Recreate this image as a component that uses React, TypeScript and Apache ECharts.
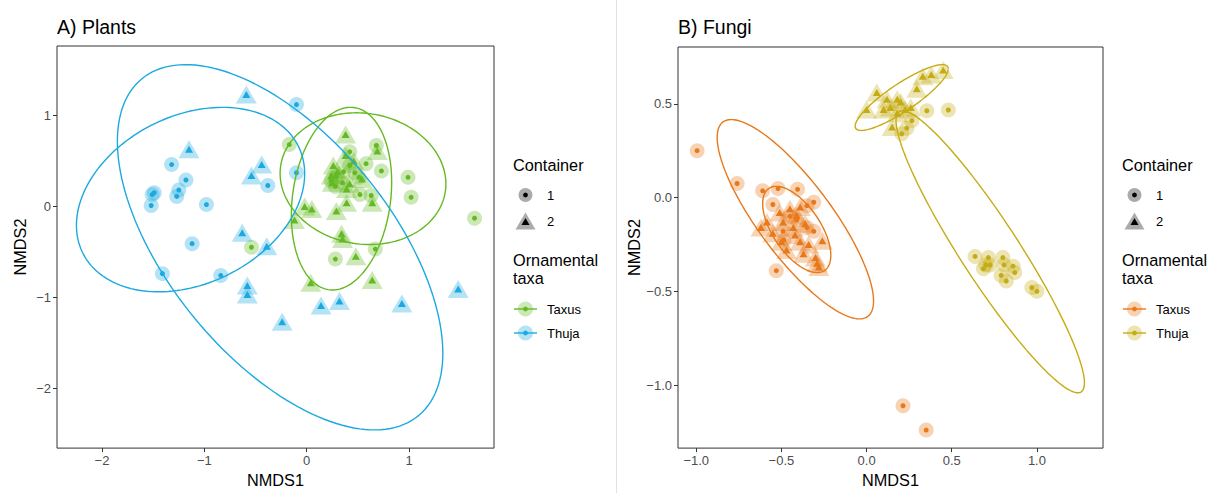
import React, { useEffect, useRef } from "react";
import * as echarts from "echarts";

// ---------- Panel A: Plants (NMDS1, NMDS2) ----------
const plantsTaxusC1: number[][] = [
  [-0.17, 0.68], [0.68, 0.67], [0.73, 0.39], [0.99, 0.32], [1.02, 0.10], [1.64, -0.13],
  [0.28, -0.58], [0.67, -0.47], [-0.54, -0.45], [0.42, 0.60], [0.58, 0.47], [0.42, 0.45],
  [0.51, 0.32], [0.29, 0.33], [0.28, 0.22], [0.52, 0.13], [0.63, 0.12], [0.36, 0.38],
  [0.47, 0.37], [0.24, 0.28], [0.35, 0.26],
];
const plantsTaxusC2: number[][] = [
  [0.38, 0.79], [0.69, 0.61], [0.26, 0.45], [0.24, 0.34], [0.25, 0.26], [0.39, 0.19],
  [0.54, 0.30], [-0.02, 0.0], [0.05, -0.03], [0.29, -0.05], [0.39, 0.04], [0.64, 0.04],
  [-0.12, -0.15], [0.34, -0.30], [0.35, -0.36], [0.48, -0.55], [0.04, -0.84], [0.64, -0.81],
  [0.38, 0.56], [0.42, 0.25], [0.30, 0.38], [0.46, 0.50],
];
const plantsThujaC1: number[][] = [
  [-1.32, 0.46], [-1.18, 0.29], [-1.25, 0.18], [-1.27, 0.11], [-1.51, 0.13], [-1.49, 0.15],
  [-1.52, 0.01], [-0.98, 0.02], [-1.12, -0.41], [-1.41, -0.74], [-0.84, -0.76], [-0.38, 0.23],
  [-0.10, 1.12], [-0.10, 0.37],
];
const plantsThujaC2: number[][] = [
  [-0.59, 1.23], [-1.15, 0.63], [-0.44, 0.46], [-0.54, 0.34], [-0.63, -0.29], [-0.39, -0.44],
  [-0.58, -0.87], [-0.58, -0.97], [-0.24, -1.27], [0.14, -1.09], [0.32, -1.04], [0.93, -1.07],
  [1.48, -0.91],
];
// ellipses: [centreX, centreY, halfWidthX, halfWidthY, correlation]
const plantsTaxusEllipses: number[][] = [
  [0.55, 0.305, 0.81, 0.725, -0.08],
  [0.34, 0.085, 0.49, 1.005, 0.18],
];
const plantsThujaEllipses: number[][] = [
  [-0.26, -0.45, 1.59, 2.01, -0.58],
  [-1.135, 0.075, 1.115, 1.015, 0.28],
];

// ---------- Panel B: Fungi ----------
const fungiTaxusC1: number[][] = [
  [-0.995, 0.25], [-0.76, 0.075], [-0.61, 0.036], [-0.52, 0.048], [-0.405, 0.044],
  [-0.31, -0.025], [-0.55, -0.037], [-0.35, -0.043], [-0.31, -0.18], [-0.49, -0.18],
  [-0.485, -0.227], [-0.53, -0.39], [-0.41, -0.12], [-0.45, -0.10], [-0.35, -0.16],
  [0.214, -1.11], [0.35, -1.24],
];
const fungiTaxusC2: number[][] = [
  [-0.585, -0.13], [-0.49, -0.13], [-0.45, -0.06], [-0.41, -0.096], [-0.39, -0.05],
  [-0.50, -0.235], [-0.39, -0.235], [-0.37, -0.30], [-0.26, -0.23], [-0.30, -0.32],
  [-0.28, -0.37], [-0.36, -0.14], [-0.43, -0.16], [-0.51, -0.08], [-0.34, -0.25],
  [-0.55, -0.19], [-0.62, -0.16], [-0.29, -0.35], [-0.47, -0.28], [-0.42, -0.20],
];
const fungiThujaC1: number[][] = [
  [0.48, 0.467], [0.354, 0.463], [0.266, 0.41], [0.236, 0.37], [0.207, 0.34],
  [0.637, -0.314], [0.715, -0.32], [0.686, -0.38], [0.725, -0.36], [0.80, -0.32],
  [0.807, -0.36], [0.86, -0.366], [0.87, -0.40], [0.79, -0.415], [0.82, -0.445],
  [0.97, -0.48], [1.0, -0.50], [0.70, -0.36],
];
const fungiThujaC2: number[][] = [
  [0.45, 0.68], [0.38, 0.656], [0.33, 0.647], [0.295, 0.58], [0.06, 0.56], [0.0, 0.47],
  [0.12, 0.525], [0.18, 0.525], [0.20, 0.51], [0.14, 0.48], [0.226, 0.47], [0.10, 0.47],
  [0.15, 0.376], [0.26, 0.48], [0.18, 0.45],
];
const fungiTaxusEllipses: number[][] = [
  [-0.418, -0.1155, 0.459, 0.5315, -0.82],
  [-0.41, -0.17, 0.2, 0.23, -0.6],
];
const fungiThujaEllipses: number[][] = [
  [0.2065, 0.5335, 0.2735, 0.1755, 0.87],
  [0.726, -0.289, 0.553, 0.752, -0.93],
];

// ---------- ticks ----------
const plantsXTicks = [-2, -1, 0, 1];
const plantsYTicks = [-2, -1, 0, 1];
const fungiXTicks = [-1, -0.5, 0, 0.5, 1];
const fungiYTicks = [-1, -0.5, 0, 0.5];

const colors = {
  plantsTaxus: "#64BA22",
  plantsThuja: "#1CA9E0",
  fungiTaxus: "#E8781A",
  fungiThuja: "#C6AC14",
};

const FONT = "'Liberation Sans', Arial, Helvetica, sans-serif";

function ellipsePoints(e: number[]): number[][] {
  const [cx, cy, a, b, r] = e;
  const s = Math.sqrt(1 - r * r);
  const pts: number[][] = [];
  const n = 160;
  for (let i = 0; i <= n; i++) {
    const t = (2 * Math.PI * i) / n;
    pts.push([cx + a * Math.cos(t), cy + b * (r * Math.cos(t) + s * Math.sin(t))]);
  }
  return pts;
}

const minus = (s: string) => s.replace("-", "\u2212");

export default function App() {
  const ref = useRef<HTMLDivElement>(null);
  useEffect(() => {
    if (!ref.current) return;
    const chart = echarts.init(ref.current, undefined, { renderer: "svg" });

    const groups = [
      { g: 0, data: plantsTaxusC1, color: colors.plantsTaxus, shape: "circle" },
      { g: 0, data: plantsThujaC1, color: colors.plantsThuja, shape: "circle" },
      { g: 0, data: plantsTaxusC2, color: colors.plantsTaxus, shape: "triangle" },
      { g: 0, data: plantsThujaC2, color: colors.plantsThuja, shape: "triangle" },
      { g: 1, data: fungiTaxusC1, color: colors.fungiTaxus, shape: "circle" },
      { g: 1, data: fungiThujaC1, color: colors.fungiThuja, shape: "circle" },
      { g: 1, data: fungiTaxusC2, color: colors.fungiTaxus, shape: "triangle" },
      { g: 1, data: fungiThujaC2, color: colors.fungiThuja, shape: "triangle" },
    ];

    const series: any[] = [];
    groups.forEach((gr) => {
      series.push({
        type: "scatter",
        xAxisIndex: gr.g,
        yAxisIndex: gr.g,
        data: gr.data,
        symbol: gr.shape,
        symbolSize: gr.shape === "circle" ? 15 : [21, 18],
        itemStyle: { color: gr.color, opacity: 0.33 },
        silent: true,
        z: 1,
      });
    });
    groups.forEach((gr) => {
      series.push({
        type: "scatter",
        xAxisIndex: gr.g,
        yAxisIndex: gr.g,
        data: gr.data,
        symbol: gr.shape,
        symbolSize: gr.shape === "circle" ? 5 : [8, 7],
        itemStyle: { color: gr.color, opacity: 1 },
        silent: true,
        z: 2,
      });
    });
    const ells = [
      { g: 0, list: plantsTaxusEllipses, color: colors.plantsTaxus },
      { g: 0, list: plantsThujaEllipses, color: colors.plantsThuja },
      { g: 1, list: fungiTaxusEllipses, color: colors.fungiTaxus },
      { g: 1, list: fungiThujaEllipses, color: colors.fungiThuja },
    ];
    ells.forEach((el) => {
      el.list.forEach((e) => {
        series.push({
          type: "line",
          xAxisIndex: el.g,
          yAxisIndex: el.g,
          data: ellipsePoints(e),
          showSymbol: false,
          symbol: "none",
          lineStyle: { color: el.color, width: 1.4 },
          silent: true,
          z: 3,
        });
      });
    });

    const xAxisBase = (g: number, min: number, max: number, ticks: number[], fmt: (v: number) => string) => ({
      gridIndex: g,
      type: "value",
      min,
      max,
      splitLine: { show: false },
      axisLine: { show: false, onZero: false },
      axisTick: { show: true, length: 4, lineStyle: { color: "#333333" }, customValues: ticks },
      axisLabel: { customValues: ticks, formatter: fmt, color: "#4D4D4D", fontSize: 13, margin: 6, fontFamily: FONT },
      name: "NMDS1",
      nameLocation: "middle",
      nameGap: 23,
      nameTextStyle: { fontSize: 16.3, color: "#000", fontFamily: FONT },
    });
    const yAxisBase = (g: number, min: number, max: number, ticks: number[], fmt: (v: number) => string) => ({
      gridIndex: g,
      type: "value",
      min,
      max,
      splitLine: { show: false },
      axisLine: { show: false, onZero: false },
      axisTick: { show: true, length: 4, lineStyle: { color: "#333333" }, customValues: ticks },
      axisLabel: { customValues: ticks, formatter: fmt, color: "#4D4D4D", fontSize: 13, margin: 6, fontFamily: FONT },
      name: "NMDS2",
      nameLocation: "middle",
      nameGap: 29,
      nameTextStyle: { fontSize: 16.3, color: "#000", fontFamily: FONT },
    });
    const fmtInt = (v: number) => minus(String(Math.round(v)));
    const fmt1 = (v: number) => minus(v.toFixed(1));

    const legend = (bx: number, c1: string, c2: string) => {
      const kx = bx + 12.5;
      const lx = bx + 34;
      const tri = (cx: number, cy: number, w: number, h: number) => [
        [cx - w / 2, cy + h / 2],
        [cx + w / 2, cy + h / 2],
        [cx, cy - h / 2],
      ];
      const txt = (x: number, y: number, text: string, size: number) => ({
        type: "text",
        x,
        y,
        style: { text, fontSize: size, fill: "#000", fontFamily: FONT, verticalAlign: "middle", align: "left" },
      });
      return [
        txt(bx, 165, "Container", 16.3),
        { type: "circle", shape: { cx: kx, cy: 195, r: 7 }, style: { fill: "#000", opacity: 0.33 } },
        { type: "circle", shape: { cx: kx, cy: 195, r: 2.4 }, style: { fill: "#000" } },
        txt(lx, 195, "1", 13),
        { type: "polygon", shape: { points: tri(kx, 221, 20, 17) }, style: { fill: "#000", opacity: 0.33 } },
        { type: "polygon", shape: { points: tri(kx, 221.5, 8, 7) }, style: { fill: "#000" } },
        txt(lx, 221, "2", 13),
        txt(bx, 260, "Ornamental", 16.3),
        txt(bx, 278, "taxa", 16.3),
        { type: "circle", shape: { cx: kx, cy: 309, r: 7.5 }, style: { fill: c1, opacity: 0.33 } },
        { type: "line", shape: { x1: bx + 1, y1: 309, x2: bx + 24, y2: 309 }, style: { stroke: c1, lineWidth: 1.4 } },
        { type: "circle", shape: { cx: kx, cy: 309, r: 2.4 }, style: { fill: c1 } },
        txt(lx, 309, "Taxus", 13),
        { type: "circle", shape: { cx: kx, cy: 333, r: 7.5 }, style: { fill: c2, opacity: 0.33 } },
        { type: "line", shape: { x1: bx + 1, y1: 333, x2: bx + 24, y2: 333 }, style: { stroke: c2, lineWidth: 1.4 } },
        { type: "circle", shape: { cx: kx, cy: 333, r: 2.4 }, style: { fill: c2 } },
        txt(lx, 333, "Thuja", 13),
      ];
    };

    const option: any = {
      animation: false,
      backgroundColor: "#ffffff",
      textStyle: { fontFamily: FONT },
      grid: [
        { left: 57, top: 46, width: 437, height: 410, show: true, borderColor: "#333333", borderWidth: 1, backgroundColor: "transparent" },
        { left: 678, top: 47, width: 425, height: 408, show: true, borderColor: "#333333", borderWidth: 1, backgroundColor: "transparent" },
      ],
      xAxis: [
        xAxisBase(0, -2.44, 1.83, plantsXTicks, fmtInt),
        xAxisBase(1, -1.107, 1.388, fungiXTicks, fmt1),
      ],
      yAxis: [
        yAxisBase(0, -2.66, 1.765, plantsYTicks, fmtInt),
        yAxisBase(1, -1.336, 0.803, fungiYTicks, fmt1),
      ],
      series,
      graphic: [
        { type: "line", shape: { x1: 616.5, y1: 0, x2: 616.5, y2: 493 }, style: { stroke: "#E2E2E2", lineWidth: 1 } },
        { type: "text", x: 57, y: 27, style: { text: "A) Plants", fontSize: 19.5, fill: "#000", fontFamily: FONT, verticalAlign: "middle" } },
        { type: "text", x: 678, y: 27, style: { text: "B) Fungi", fontSize: 19.5, fill: "#000", fontFamily: FONT, verticalAlign: "middle" } },
        ...legend(513, colors.plantsTaxus, colors.plantsThuja),
        ...legend(1122, colors.fungiTaxus, colors.fungiThuja),
      ],
    };
    chart.setOption(option);
    return () => chart.dispose();
  }, []);
  return <div ref={ref} style={{ position: "absolute", left: 0, top: 0, width: 1210, height: 493 }} />;
}
